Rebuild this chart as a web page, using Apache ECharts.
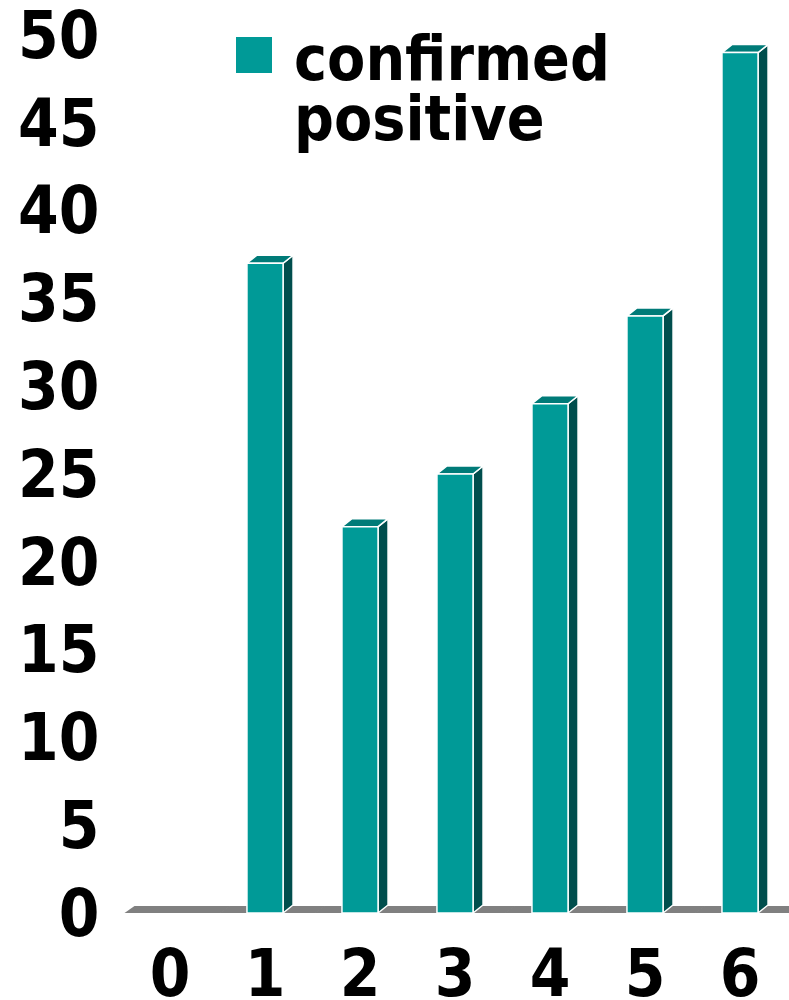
<!DOCTYPE html>
<html>
<head>
<meta charset="utf-8">
<script src="https://cdn.jsdelivr.net/npm/echarts@6/dist/echarts.min.js"></script>
<style>
  html, body { margin: 0; padding: 0; background: #fff; }
  #chart { width: 789px; height: 1000px; }
</style>
</head>
<body>
<div id="chart"></div>
<script>
// Categories along the x axis and the count per category
const categories = ['0', '1', '2', '3', '4', '5', '6'];
const confirmedPositive = [0, 37, 22, 25, 29, 34, 49];
const seriesName = 'confirmed positive';

// Value axis range
const yMin = 0;
const yMax = 50;
const yStep = 5;

const FONT = '"DejaVu Sans Condensed", "DejaVu Sans", sans-serif';
const FONT_SIZE = 65;
const LINE_H = 65;

// Legend text metrics
const LEG_SIZE = 62;
const LEG_LINE = 60;
const LEG_SPACER = 78;
const LEG_ICON = 36;

// Depth offset of the pseudo-3D faces (px)
const DX = 10;
const DY = -8;

const FRONT = '#009a97';
const TOP = '#007b78';
const SIDE = '#004e4d';
const FLOOR = '#808080';

const chart = echarts.init(document.getElementById('chart'), null, { renderer: 'canvas' });

// Grey floor strip under each category band (slightly overlapped to avoid seams)
function renderFloor(params, api) {
  const idx = api.value(0);
  const base = api.coord([idx, 0]);
  const band = api.size([1, 0])[0];
  const x0 = base[0] - band / 2 + 2;
  const x1 = base[0] + band / 2 + 3;
  const y0 = base[1];
  return {
    type: 'polygon',
    shape: { points: [[x0, y0], [x1, y0], [x1 + DX, y0 + DY + 1], [x0 + DX, y0 + DY + 1]] },
    style: { fill: FLOOR }
  };
}

// Pseudo-3D column: right side, top face, then front face
function renderBar(params, api) {
  const idx = api.value(0);
  const val = api.value(1);
  if (!val) return null;
  const top = api.coord([idx, val]);
  const base = api.coord([idx, 0]);
  const w = api.size([1, 0])[0] * 0.38;
  const xl = top[0] - w / 2;
  const xr = top[0] + w / 2;
  const yt = top[1];
  const yb = base[1];
  const stroke = { stroke: '#ffffff', lineWidth: 1.5, lineJoin: 'miter' };
  return {
    type: 'group',
    children: [
      {
        type: 'polygon',
        shape: { points: [[xr, yb], [xr, yt], [xr + DX, yt + DY], [xr + DX, yb + DY]] },
        style: Object.assign({ fill: SIDE }, stroke)
      },
      {
        type: 'polygon',
        shape: { points: [[xl, yt], [xr, yt], [xr + DX, yt + DY], [xl + DX, yt + DY]] },
        style: Object.assign({ fill: TOP }, stroke)
      },
      {
        type: 'rect',
        shape: { x: xl, y: yt, width: w, height: yb - yt },
        style: Object.assign({ fill: FRONT }, stroke)
      }
    ]
  };
}

const legendTextH = LEG_SPACER + 2 * LEG_LINE;

const option = {
  animation: false,
  backgroundColor: '#ffffff',
  grid: {
    left: 122.5, right: 1.5, top: 35, bottom: 87,
    containLabel: false,
    outerBoundsMode: 'none'
  },
  legend: {
    data: [{ name: seriesName, icon: 'rect' }],
    left: 236,
    top: 37 - (legendTextH / 2 - LEG_ICON / 2),
    padding: 0,
    itemWidth: LEG_ICON,
    itemHeight: LEG_ICON,
    itemGap: 0,
    selectedMode: false,
    formatter: (name) => '{s|}\n{a|' + name.split(' ').join('}\n{a|') + '}',
    textStyle: {
      fontFamily: FONT,
      fontWeight: 'bold',
      fontSize: LEG_SIZE,
      color: '#000',
      padding: [0, 0, 0, 17],
      rich: {
        s: { height: LEG_SPACER, lineHeight: LEG_SPACER, fontSize: 1 },
        a: {
          fontFamily: FONT,
          fontWeight: 'bold',
          fontSize: LEG_SIZE,
          lineHeight: LEG_LINE,
          color: '#000'
        }
      }
    }
  },
  xAxis: {
    type: 'category',
    data: categories,
    axisLine: { show: false },
    axisTick: { show: false },
    splitLine: { show: false },
    axisLabel: {
      fontFamily: FONT,
      fontWeight: 'bold',
      fontSize: FONT_SIZE,
      lineHeight: LINE_H,
      color: '#000',
      margin: 34
    }
  },
  yAxis: {
    type: 'value',
    min: yMin,
    max: yMax,
    interval: yStep,
    axisLine: { show: false },
    axisTick: { show: false },
    splitLine: { show: false },
    axisLabel: {
      fontFamily: FONT,
      fontWeight: 'bold',
      fontSize: FONT_SIZE,
      color: '#000',
      margin: 23,
      verticalAlign: 'top',
      lineHeight: 12
    }
  },
  series: [
    {
      name: 'floor',
      type: 'custom',
      renderItem: renderFloor,
      data: categories.map((c, i) => [i, 0]),
      z: 1,
      silent: true
    },
    {
      name: seriesName,
      type: 'custom',
      renderItem: renderBar,
      itemStyle: { color: FRONT },
      data: confirmedPositive.map((v, i) => [i, v]),
      encode: { x: 0, y: 1 },
      z: 2
    }
  ]
};

chart.setOption(option);
</script>
</body>
</html>
